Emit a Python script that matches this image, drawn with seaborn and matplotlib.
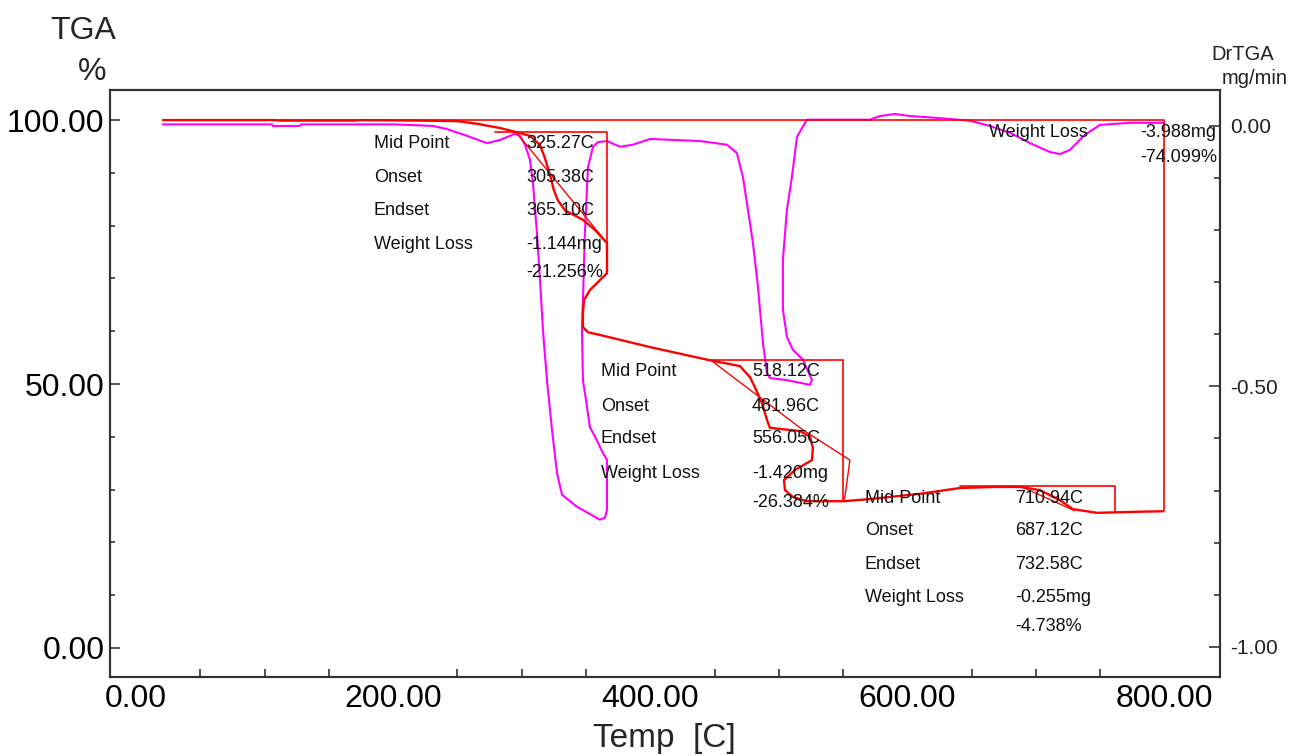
import numpy as np
import matplotlib
matplotlib.use("Agg")
import matplotlib.pyplot as plt
from matplotlib.ticker import MultipleLocator, FixedLocator, FormatStrFormatter
import seaborn as sns

# ---- TGA trace (sample temperature [C], weight [%]) ----
tga_temp = [21.0, 108.0, 112.0, 170.0, 175.0, 220.8, 250.4, 265.2, 283.0, 296.3,
            306.4, 314.2, 318.0, 322.0, 325.0, 328.1, 333.6, 347.6, 356.9, 366.3,
            366.3, 360.8, 353.0, 348.4, 347.6, 347.6, 351.5, 360.8, 399.7, 446.3,
            469.7, 477.5, 481.3, 486.8, 490.7, 493.0, 516.3, 524.1, 526.4, 525.7,
            512.4, 503.9, 504.7, 510.9, 521.8, 549.8, 570.8, 609.6, 640.7, 666.4,
            687.4, 703.0, 718.5, 728.6, 747.3, 778.4, 798.6]
tga_pct = [100.0, 100.0, 99.9, 99.9, 100.0, 99.9, 99.8, 99.3, 98.5, 97.7,
           97.0, 95.3, 92.8, 89.6, 86.7, 84.8, 82.9, 81.1, 79.2, 76.7,
           71.0, 69.7, 67.8, 65.9, 63.6, 60.8, 59.8, 59.3, 57.0, 54.5,
           53.4, 51.3, 49.4, 46.4, 43.2, 41.7, 41.1, 40.0, 37.9, 35.6,
           33.7, 31.8, 29.9, 28.6, 27.8, 27.8, 28.2, 29.2, 30.3, 30.5,
           30.5, 29.9, 28.0, 26.3, 25.6, 25.8, 25.9]

# ---- DrTGA trace (sample temperature [C], rate [mg/min]) ----
dtg_temp = [21.0, 105.8, 106.5, 127.5, 128.3, 201.4, 231.0, 241.8, 257.4, 272.9,
            283.0, 294.7, 298.6, 302.5, 306.4, 308.7, 311.8, 314.2, 316.5, 319.6,
            323.5, 327.4, 331.3, 342.9, 360.8, 364.7, 366.3, 366.3, 363.1, 359.3,
            353.0, 350.7, 347.6, 346.8, 347.6, 349.1, 351.5, 355.4, 359.3, 366.3,
            376.4, 386.5, 399.7, 438.6, 459.6, 467.3, 472.0, 475.9, 479.8, 483.7,
            487.6, 490.7, 493.0, 506.2, 524.1, 525.7, 518.7, 510.9, 506.2, 503.1,
            503.1, 506.2, 510.1, 514.0, 521.8, 547.4, 570.8, 578.5, 590.2, 601.9,
            625.2, 648.5, 664.0, 679.6, 695.2, 710.7, 718.5, 726.3, 737.9, 749.6,
            772.9, 799.4]
dtg_rate = [0.003, 0.003, 0.000, 0.000, 0.003, 0.003, 0.000, -0.006, -0.019, -0.033,
            -0.027, -0.015, -0.019, -0.036, -0.065, -0.109, -0.205, -0.296, -0.392, -0.488,
            -0.583, -0.666, -0.708, -0.731, -0.756, -0.752, -0.737, -0.641, -0.628, -0.608,
            -0.578, -0.539, -0.488, -0.392, -0.334, -0.205, -0.079, -0.040, -0.031, -0.029,
            -0.040, -0.036, -0.025, -0.029, -0.036, -0.052, -0.098, -0.161, -0.225, -0.309,
            -0.417, -0.474, -0.484, -0.488, -0.497, -0.488, -0.449, -0.430, -0.405, -0.353,
            -0.257, -0.161, -0.098, -0.021, 0.012, 0.012, 0.012, 0.019, 0.023, 0.019,
            0.015, 0.010, 0.000, -0.013, -0.033, -0.050, -0.054, -0.046, -0.017, 0.002,
            0.006, 0.006]

# ---- weight-loss analysis construction lines (temperature, weight %) ----
total_box_t = [21.0, 799.4, 799.4]
total_box_w = [100.1, 100.1, 25.9]
step1_box_t = [279.2, 366.3, 366.3]
step1_box_w = [97.7, 97.7, 71.0]
step1_tan_t = [296.3, 366.3]
step1_tan_w = [97.5, 76.7]
step2_box_t = [444.0, 549.8, 549.8]
step2_box_w = [54.5, 54.5, 27.8]
step2_tan_t = [448.7, 518.7, 555.2, 551.3, 549.8]
step2_tan_w = [54.2, 41.3, 35.6, 28.6, 27.8]
step3_box_t = [640.7, 761.3, 761.3]
step3_box_w = [30.7, 30.7, 25.8]
step3_tan_t = [690.0, 730.0]
step3_tan_w = [30.4, 26.0]

# ---- analysis results ----
row_names = ["Mid Point", "Onset", "Endset", "Weight Loss"]
step1_vals = ["325.27C", "305.38C", "365.10C", "-1.144mg", "-21.256%"]
step2_vals = ["518.12C", "481.96C", "556.05C", "-1.420mg", "-26.384%"]
step3_vals = ["710.94C", "687.12C", "732.58C", "-0.255mg", "-4.738%"]
total_name = "Weight Loss"
total_vals = ["-3.988mg", "-74.099%"]

x_major = [0, 200, 400, 600, 800]

sns.set_theme(style="white")
plt.rcParams["font.family"] = ["Liberation Sans", "DejaVu Sans"]
plt.rcParams["axes.unicode_minus"] = False

fig = plt.figure(figsize=(12.9, 7.56), dpi=100)
ax = fig.add_axes([110 / 1290, 1 - 677 / 756, 1110 / 1290, 587 / 756])
ax2 = ax.twinx()

RED = "#ff0000"
MAG = "#ff00ff"

# DrTGA on the right axis
sns.lineplot(x=dtg_temp, y=dtg_rate, sort=False, estimator=None,
             color=MAG, lw=1.5, ax=ax2)

# TGA and analysis lines on the left axis
for xs, ys, lw in [(total_box_t, total_box_w, 1.2),
                   (step1_box_t, step1_box_w, 1.2),
                   (step1_tan_t, step1_tan_w, 1.0),
                   (step2_box_t, step2_box_w, 1.2),
                   (step2_tan_t, step2_tan_w, 1.0),
                   (step3_box_t, step3_box_w, 1.2),
                   (step3_tan_t, step3_tan_w, 1.0)]:
    sns.lineplot(x=xs, y=ys, sort=False, estimator=None, color=RED, lw=lw, ax=ax)
sns.lineplot(x=tga_temp, y=tga_pct, sort=False, estimator=None,
             color=RED, lw=1.7, ax=ax)

ax.set_zorder(ax2.get_zorder() + 1)
ax.patch.set_visible(False)

ax.set_xlim(-20.2, 843.0)
ax.set_ylim(-5.5, 105.7)
ax2.set_ylim(-1.058, 0.069)

ax.xaxis.set_major_locator(FixedLocator(x_major))
ax.xaxis.set_minor_locator(MultipleLocator(50))
ax.yaxis.set_major_locator(MultipleLocator(50))
ax.yaxis.set_minor_locator(MultipleLocator(10))
ax2.yaxis.set_major_locator(MultipleLocator(0.5))
ax2.yaxis.set_minor_locator(MultipleLocator(0.1))
for a in (ax.xaxis, ax.yaxis, ax2.yaxis):
    a.set_major_formatter(FormatStrFormatter("%.2f"))

spine_c = "#333333"
for a in (ax, ax2):
    for s in a.spines.values():
        s.set_color(spine_c)
        s.set_linewidth(1.5)

ax.tick_params(axis="x", which="major", direction="in", length=9, width=1.2,
               color=spine_c, labelsize=23, pad=5, top=False, labelcolor="black")
ax.tick_params(axis="x", which="minor", direction="in", length=6, width=1.2,
               color=spine_c, top=False, bottom=True)
ax.tick_params(axis="y", which="major", direction="in", length=7, width=1.2,
               color=spine_c, labelsize=23, pad=4, labelcolor="black")
ax.tick_params(axis="y", which="minor", direction="in", length=3.5, width=1.2,
               color=spine_c, left=True)
ax2.tick_params(axis="y", which="major", direction="in", length=8, width=1.2,
                color=spine_c, labelsize=15, pad=7, labelcolor="#222222")
ax2.tick_params(axis="y", which="minor", direction="in", length=4, width=1.2,
                color=spine_c, right=True)
ax.set_xlabel("")
ax.set_ylabel("")
ax2.set_ylabel("")

# axis titles
fig.text(83.5 / 1290, 1 - 31 / 756, "TGA", fontsize=23, ha="center", va="center")
fig.text(92 / 1290, 1 - 72 / 756, "%", fontsize=23, ha="center", va="center")
fig.text(1243 / 1290, 1 - 55 / 756, "DrTGA", fontsize=14.5, ha="center",
         va="center", color="#222222")
fig.text(1288 / 1290, 1 - 79 / 756, "mg/min", fontsize=14.5, ha="right",
         va="center", color="#222222")
fig.text(664 / 1290, 1 - 738 / 756, "Temp  [C]", fontsize=24, ha="center",
         va="center")


def step_table(t_name, t_val, rows_w, vals):
    for name, w in zip(row_names, rows_w):
        ax.text(t_name, w, name, fontsize=13, ha="left", va="center",
                color="#111111", zorder=5)
    for v, w in zip(vals, rows_w + [rows_w[-1] - (rows_w[-2] - rows_w[-1]) * 0.85]):
        ax.text(t_val, w, v, fontsize=13, ha="left", va="center",
                color="#111111", zorder=5)


step_table(185.1, 303.3, [95.6, 89.2, 82.8, 76.5], step1_vals)
step_table(361.6, 479.0, [52.3, 45.8, 39.6, 33.1], step2_vals)
step_table(566.9, 683.5, [28.4, 22.2, 15.9, 9.5], step3_vals)

ax.text(663.3, 97.7, total_name, fontsize=13, ha="left", va="center",
        color="#111111", zorder=5)
ax.text(780.7, 97.7, total_vals[0], fontsize=13, ha="left", va="center",
        color="#111111", zorder=5)
ax.text(780.7, 93.0, total_vals[1], fontsize=13, ha="left", va="center",
        color="#111111", zorder=5)

fig.savefig("out.png", dpi=100, facecolor="white")
